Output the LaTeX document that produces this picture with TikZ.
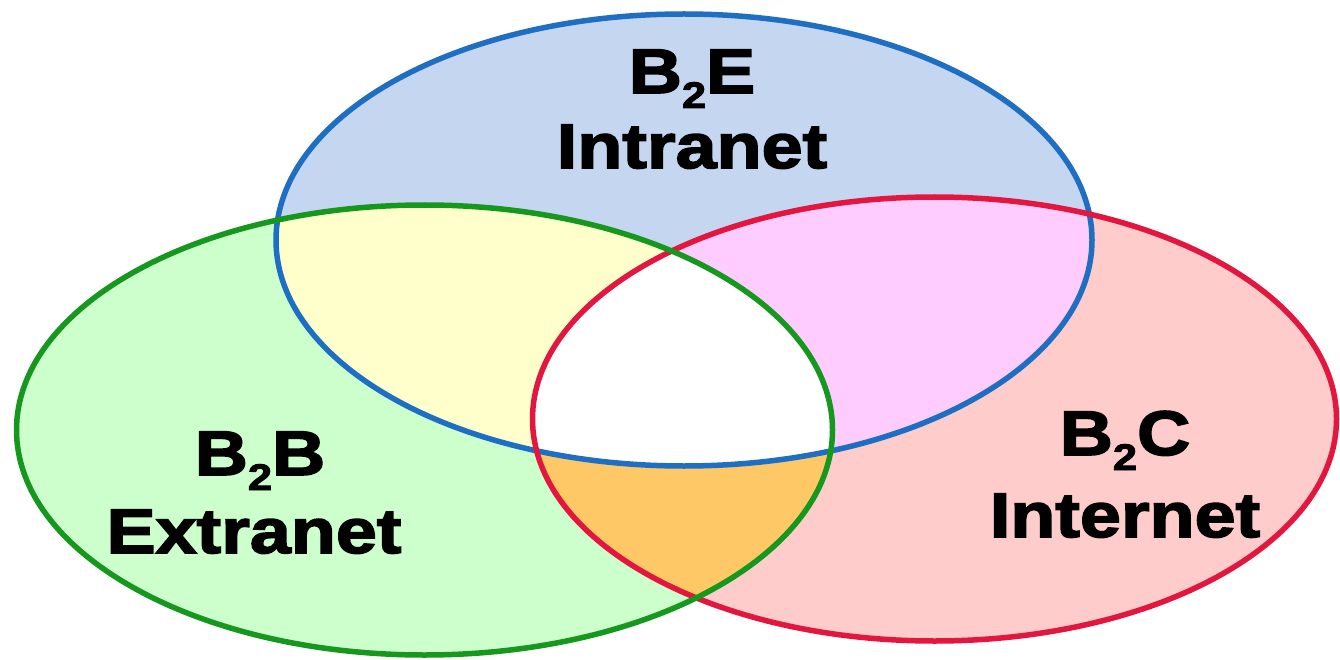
\documentclass[tikz,border=0pt]{standalone}
\usepackage{fontspec}
\newfontfamily\lab{Liberation Sans}[FakeStretch=1.17, FakeBold=2.6]
\definecolor{bfill}{RGB}{197,214,240}
\definecolor{gfill}{RGB}{204,255,204}
\definecolor{rfill}{RGB}{255,204,204}
\definecolor{bgfill}{RGB}{255,255,204}
\definecolor{brfill}{RGB}{255,204,255}
\definecolor{grfill}{RGB}{255,200,102}
\definecolor{bline}{RGB}{30,111,196}
\definecolor{gline}{RGB}{22,152,30}
\definecolor{rline}{RGB}{226,22,62}
\tikzset{
  lbl/.style={anchor=base, inner sep=0pt, font=\lab\bfseries\fontsize{63}{63}\selectfont, text=black},
  ring/.style={line width=5.5pt},
}
\newcommand{\Bell}{(684,240) ellipse [x radius=408pt, y radius=226pt]}
\newcommand{\Gell}{(424.5,430) ellipse [x radius=408pt, y radius=225pt]}
\newcommand{\Rell}{(934.5,419) ellipse [x radius=402pt, y radius=222pt]}
\newcommand{\sub}[1]{\raisebox{-15pt}{\fontsize{37}{37}\selectfont #1}}
\begin{document}
\begin{tikzpicture}[x=1pt,y=-1pt]
\useasboundingbox (0,0) rectangle (1340,660);
\fill[white] (0,0) rectangle (1340,660);
% base fills
\fill[bfill] \Bell;
\fill[gfill] \Gell;
\fill[rfill] \Rell;
% pairwise
\begin{scope}\clip \Bell; \fill[bgfill] \Gell; \end{scope}
\begin{scope}\clip \Bell; \fill[brfill] \Rell; \end{scope}
\begin{scope}\clip \Gell; \fill[grfill] \Rell; \end{scope}
\begin{scope}\clip \Bell; \clip \Gell; \fill[white] \Rell; \end{scope}
% outlines
\draw[ring, bline] \Bell;
\draw[ring, rline] \Rell;
\draw[ring, gline] \Gell;
% labels
\node[lbl] (e1) at (692,93) {B\sub{2}E};
\node[lbl] (e2) at (692,168) {Intranet};
\node[lbl] (b1) at (260,475) {B\sub{2}B};
\node[lbl] (b2) at (254,553) {Extranet};
\node[lbl] (c1) at (1125,455) {B\sub{2}C};
\node[lbl] (c2) at (1125,537) {Internet};
\end{tikzpicture}
\end{document}
